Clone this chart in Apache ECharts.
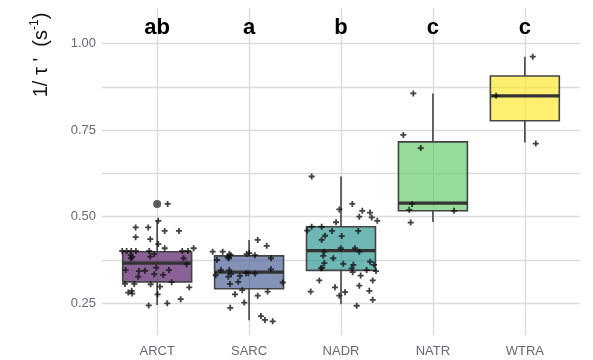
<!DOCTYPE html>
<html>
<head>
<meta charset="utf-8">
<script src="https://cdn.jsdelivr.net/npm/echarts@6/dist/echarts.min.js"></script>
<style>
  html, body { margin: 0; padding: 0; background: #fff; }
  #chart { width: 593px; height: 360px; }
</style>
</head>
<body>
<div id="chart"></div>
<script>
// categories and significance letters
const categories = ['ARCT', 'SARC', 'NADR', 'NATR', 'WTRA']
const letters = ['ab', 'a', 'b', 'c', 'c']
const yTicks = [0.25, 0.5, 0.75, 1.0]

// box stats: [lower whisker, Q1, median, Q3, upper whisker]
const arctBox = [0.245, 0.312, 0.366, 0.399, 0.490]
const sarcBox = [0.201, 0.292, 0.340, 0.387, 0.433]
const nadrBox = [0.247, 0.345, 0.402, 0.471, 0.616]
const natrBox = [0.485, 0.517, 0.539, 0.716, 0.856]
const wtraBox = [0.714, 0.777, 0.849, 0.906, 0.962]

// outliers: [category index, value]
const outliers = [[0, 0.537]]

// jittered points: horizontal jitter (in category units) and value
const arctJitter = [0.114, 0.012, -0.234, -0.097, 0.082, 0.237, -0.234, -0.075, 0.012, -0.380, -0.332, -0.282, -0.231, -0.086, 0.082, 0.273, 0.335, 0.397, -0.288, -0.271, -0.285, -0.075, -0.032, 0.288, 0.321, -0.343, -0.198, -0.133, -0.032, 0.066, 0.128, -0.206, -0.010, -0.350, -0.249, -0.071, 0.030, 0.158, -0.314, -0.277, -0.271, 0.005, 0.349, -0.092, 0.110, 0.256]
const arctValues = [0.537, 0.488, 0.469, 0.469, 0.459, 0.459, 0.441, 0.435, 0.421, 0.401, 0.401, 0.401, 0.401, 0.401, 0.409, 0.401, 0.401, 0.409, 0.389, 0.384, 0.380, 0.385, 0.392, 0.380, 0.363, 0.346, 0.343, 0.344, 0.334, 0.332, 0.346, 0.327, 0.353, 0.306, 0.306, 0.305, 0.298, 0.311, 0.281, 0.286, 0.278, 0.276, 0.296, 0.244, 0.250, 0.262]

const sarcJitter = [0.094, 0.192, -0.396, -0.287, -0.215, -0.200, -0.233, -0.026, 0.002, 0.064, -0.349, 0.238, -0.306, -0.215, -0.197, -0.034, -0.009, 0.064, 0.238, -0.363, -0.226, -0.099, -0.118, -0.208, 0.366, -0.074, 0.202, -0.153, 0.094, -0.052, -0.205, 0.129, 0.173, 0.257, -0.219]
const sarcValues = [0.433, 0.416, 0.399, 0.399, 0.392, 0.389, 0.383, 0.392, 0.395, 0.389, 0.375, 0.380, 0.346, 0.346, 0.334, 0.337, 0.337, 0.336, 0.348, 0.331, 0.327, 0.329, 0.312, 0.306, 0.310, 0.288, 0.284, 0.276, 0.272, 0.252, 0.237, 0.213, 0.202, 0.198, 0.380]

const nadrJitter = [-0.319, -0.018, 0.123, 0.232, 0.316, 0.199, 0.334, 0.395, -0.054, -0.367, -0.319, -0.210, -0.098, 0.188, -0.174, -0.210, 0.008, -0.182, -0.003, 0.152, 0.199, -0.193, -0.084, -0.182, 0.025, 0.316, 0.359, 0.134, 0.116, -0.218, -0.203, 0.127, 0.279, 0.381, 0.214, -0.236, 0.345, 0.199, -0.065, -0.330, -0.018, 0.308, 0.044, 0.345, 0.171]
const nadrValues = [0.616, 0.521, 0.537, 0.517, 0.512, 0.500, 0.498, 0.488, 0.484, 0.460, 0.471, 0.471, 0.459, 0.459, 0.445, 0.433, 0.444, 0.399, 0.409, 0.409, 0.399, 0.387, 0.380, 0.366, 0.364, 0.370, 0.361, 0.361, 0.351, 0.351, 0.353, 0.340, 0.346, 0.343, 0.330, 0.316, 0.316, 0.301, 0.296, 0.284, 0.272, 0.286, 0.282, 0.260, 0.243]

const natrJitter = [-0.213, -0.322, -0.133, -0.227, -0.257, 0.230, -0.242]
const natrValues = [0.856, 0.736, 0.698, 0.537, 0.520, 0.517, 0.483]

const wtraJitter = [0.086, -0.313, 0.119]
const wtraValues = [0.962, 0.849, 0.711]

const boxes = [arctBox, sarcBox, nadrBox, natrBox, wtraBox]
const jitters = [arctJitter, sarcJitter, nadrJitter, natrJitter, wtraJitter]
const values = [arctValues, sarcValues, nadrValues, natrValues, wtraValues]

// viridis fills with alpha
const fills = ['rgba(68,1,84,0.62)', 'rgba(59,82,139,0.63)', 'rgba(33,144,140,0.65)', 'rgba(93,200,99,0.65)', 'rgba(253,231,37,0.65)']
const font = '"Liberation Sans", Arial, sans-serif'
const gridColor = '#dcdcdc'
const labelColor = '#666a76'

const points = []
jitters.forEach((arr, i) => {
  arr.forEach((u, k) => points.push([i + u, values[i][k]]))
})

const chart = echarts.init(document.getElementById('chart'))
const option = {
  animation: false,
  backgroundColor: '#fff',
  grid: { left: 102, right: 13, top: 8, bottom: 25, outerBoundsMode: 'none' },
  xAxis: {
    type: 'value',
    min: -0.6,
    max: 4.6,
    axisLine: { show: false },
    axisTick: { show: false, customValues: [0, 1, 2, 3, 4] },
    axisLabel: {
      customValues: [0, 1, 2, 3, 4],
      formatter: v => categories[Math.round(v)],
      color: labelColor,
      fontSize: 13,
      fontFamily: font,
      margin: 10
    },
    splitLine: { show: true, lineStyle: { color: gridColor, width: 1.4 } }
  },
  yAxis: {
    type: 'value',
    min: 0.1585,
    max: 1.1025,
    axisLine: { show: false },
    axisTick: { show: false, customValues: [0.25, 0.375, 0.5, 0.625, 0.75, 0.875, 1.0] },
    axisLabel: {
      customValues: yTicks,
      formatter: v => v.toFixed(2),
      color: labelColor,
      fontSize: 13,
      fontFamily: font,
      margin: 6
    },
    splitLine: { show: true, lineStyle: { color: gridColor, width: 1.4 } }
  },
  graphic: [{
    type: 'text',
    x: 41,
    y: 55,
    rotation: Math.PI / 2,
    style: {
      text: "{t|1/ τ '  (s}{s|-1}{t|)}",
      align: 'center',
      verticalAlign: 'middle',
      rich: {
        t: { fontSize: 20, fontFamily: font, fill: '#111', lineHeight: 24 },
        s: { fontSize: 12, fontFamily: font, fill: '#111', verticalAlign: 'top' }
      }
    }
  }],
  series: [
    {
      // boxes drawn like ggplot geom_boxplot
      type: 'custom',
      data: boxes.map((b, i) => [i].concat(b)),
      encode: { x: 0, y: [1, 2, 3, 4, 5] },
      renderItem (params, api) {
        const i = api.value(0)
        const lo = api.coord([i, api.value(1)])
        const q1 = api.coord([i, api.value(2)])
        const med = api.coord([i, api.value(3)])
        const q3 = api.coord([i, api.value(4)])
        const hi = api.coord([i, api.value(5)])
        const half = api.size([0.75, 0])[0] / 2
        const stroke = '#444'
        return {
          type: 'group',
          children: [
            { type: 'line', shape: { x1: lo[0], y1: lo[1], x2: q1[0], y2: q1[1] }, style: { stroke, lineWidth: 1.6 } },
            { type: 'line', shape: { x1: q3[0], y1: q3[1], x2: hi[0], y2: hi[1] }, style: { stroke, lineWidth: 1.6 } },
            { type: 'rect', shape: { x: q3[0] - half, y: q3[1], width: half * 2, height: q1[1] - q3[1] }, style: { fill: fills[params.dataIndex], stroke, lineWidth: 1.6 } },
            { type: 'line', shape: { x1: med[0] - half, y1: med[1], x2: med[0] + half, y2: med[1] }, style: { stroke: '#333', lineWidth: 3.2 } }
          ]
        }
      }
    },
    {
      type: 'scatter',
      data: outliers,
      symbol: 'circle',
      symbolSize: 8,
      itemStyle: { color: '#333' }
    },
    {
      type: 'scatter',
      data: points,
      symbol: 'path://M2.1,0H3.9V2.1H6V3.9H3.9V6H2.1V3.9H0V2.1H2.1Z',
      symbolSize: 6,
      itemStyle: { color: '#111' }
    },
    {
      // significance letters above each group
      type: 'custom',
      data: letters.map((t, i) => [i, 1.045]),
      encode: { x: 0, y: 1 },
      renderItem (params, api) {
        const p = api.coord([api.value(0), api.value(1)])
        return {
          type: 'text',
          x: p[0],
          y: p[1],
          style: {
            text: letters[params.dataIndex],
            font: 'bold 22px ' + font,
            fill: '#000',
            align: 'center',
            verticalAlign: 'middle'
          }
        }
      }
    }
  ]
}
chart.setOption(option)
</script>
</body>
</html>
